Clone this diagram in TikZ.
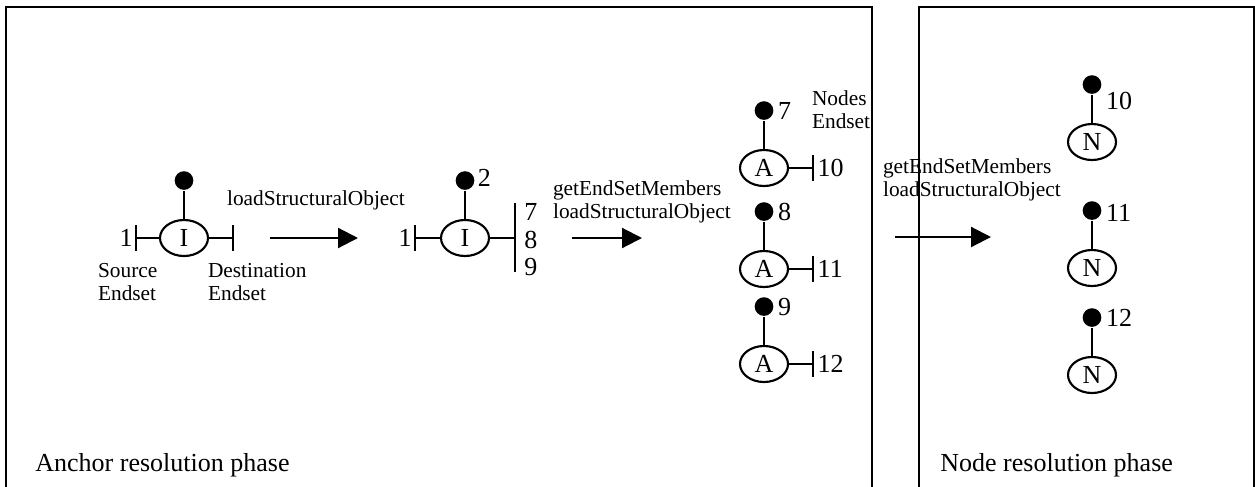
\documentclass[tikz,border=0pt]{standalone}
\usepackage{fontspec}
\setmainfont{Liberation Serif}
\usetikzlibrary{arrows.meta,positioning,shapes.geometric}

\tikzset{
  obj/.style={ellipse, draw, line width=1.6pt, minimum width=36pt,
    minimum height=27pt, inner sep=0pt, font=\bignum},
  anchordot/.style={circle, fill, minimum size=14pt, inner sep=0pt},
  num/.style={inner sep=1pt, font=\bignum},
  call/.style={align=left, inner sep=0pt, font=\smalltxt},
  endbar/.style={-{Bar[width=19pt, line width=1.6pt]}},
  phasearrow/.style={-{Triangle[length=15pt, width=15pt]}}
}
\newcommand{\bignum}{\fontsize{19.5}{22}\selectfont}
\newcommand{\smalltxt}{\fontsize{16}{17.3}\selectfont}

\begin{document}
\begin{tikzpicture}[x=0.75pt, y=-0.75pt, line width=1.6pt]
  \useasboundingbox (0,0) rectangle (1255,486);

  % The two phase boxes
  \draw[line width=2pt] (6,500) -- (6,7) -- (872,7) -- (872,500);
  \draw[line width=2pt] (919,500) -- (919,7) -- (1254,7) -- (1254,500);
  \node[num, anchor=west] (anchorphase) at (33,465) {Anchor resolution phase};
  \node[num, anchor=west] (nodephase) at (938,465) {Node resolution phase};

  % First link object
  \node[obj] (i1) at (184,238) {I};
  \node[anchordot, above=21pt of i1] (i1dot) {};
  \draw (i1) -- (i1dot);
  \coordinate (i1src) at (135,238);
  \coordinate (i1dst) at (234,238);
  \draw[endbar] (i1.west) -- (i1src);
  \draw[endbar] (i1.east) -- (i1dst);
  \node[num, left=0pt of i1src] (i1one) {1};
  \node[call, anchor=west] (srclabel) at (97,282) {Source\\Endset};
  \node[call, anchor=west] (dstlabel) at (207,282) {Destination\\Endset};

  % First step
  \node[call, anchor=west] (step1) at (226,200) {loadStructuralObject};
  \coordinate (a1s) at (270,238);
  \coordinate (a1e) at (358,238);
  \draw[phasearrow] (a1s) -- (a1e);

  % Loaded link object
  \node[obj] (i2) at (465,238) {I};
  \node[anchordot, above=21pt of i2] (i2dot) {};
  \draw (i2) -- (i2dot);
  \node[num, right=0pt of i2dot, yshift=2pt] (i2two) {2};
  \coordinate (i2src) at (414,238);
  \draw[endbar] (i2.west) -- (i2src);
  \node[num, left=0pt of i2src] (i2one) {1};
  \coordinate (i2dst) at (515,238);
  \coordinate (i2top) at (515,203);
  \coordinate (i2bot) at (515,272);
  \draw (i2.east) -- (i2dst);
  \draw (i2top) -- (i2bot);
  \node[num, anchor=west] (i2seven) at (522,212) {7};
  \node[num, anchor=west] (i2eight) at (522,240) {8};
  \node[num, anchor=west] (i2nine) at (522,267) {9};

  % Second step
  \node[call, anchor=west] (step2) at (552,202) {getEndSetMembers\\loadStructuralObject};
  \coordinate (a2s) at (572,238);
  \coordinate (a2e) at (642,238);
  \draw[phasearrow] (a2s) -- (a2e);

  % Anchor objects
  \foreach \name/\y/\top/\end in {a1/168/7/10, a2/269/8/11, a3/364/9/12} {
    \node[obj] (\name) at (764,\y) {A};
    \node[anchordot, above=21pt of \name] (\name dot) {};
    \draw (\name) -- (\name dot);
    \node[num, right=1pt of \name dot] (\name top) {\top};
    \coordinate (\name end) at (814,\y);
    \draw[endbar] (\name.east) -- (\name end);
    \node[num, right=1pt of \name end] (\name num) {\end};
  }
  \node[call, anchor=west] (nodeslabel) at (811,110) {Nodes\\Endset};

  % Third step
  \node[call, anchor=west] (step3) at (882,180) {getEndSetMembers\\loadStructuralObject};
  \coordinate (a3s) at (895,237);
  \coordinate (a3e) at (991,237);
  \draw[phasearrow] (a3s) -- (a3e);

  % Node objects
  \foreach \name/\y/\lab/\dy in {n1/142/10/-12, n2/268/11/-2, n3/375/12/0} {
    \node[obj] (\name) at (1092,\y) {N};
    \node[anchordot, above=21pt of \name] (\name dot) {};
    \draw (\name) -- (\name dot);
    \node[num, right=1pt of \name dot, yshift=\dy pt] (\name num) {\lab};
  }
\end{tikzpicture}
\end{document}
